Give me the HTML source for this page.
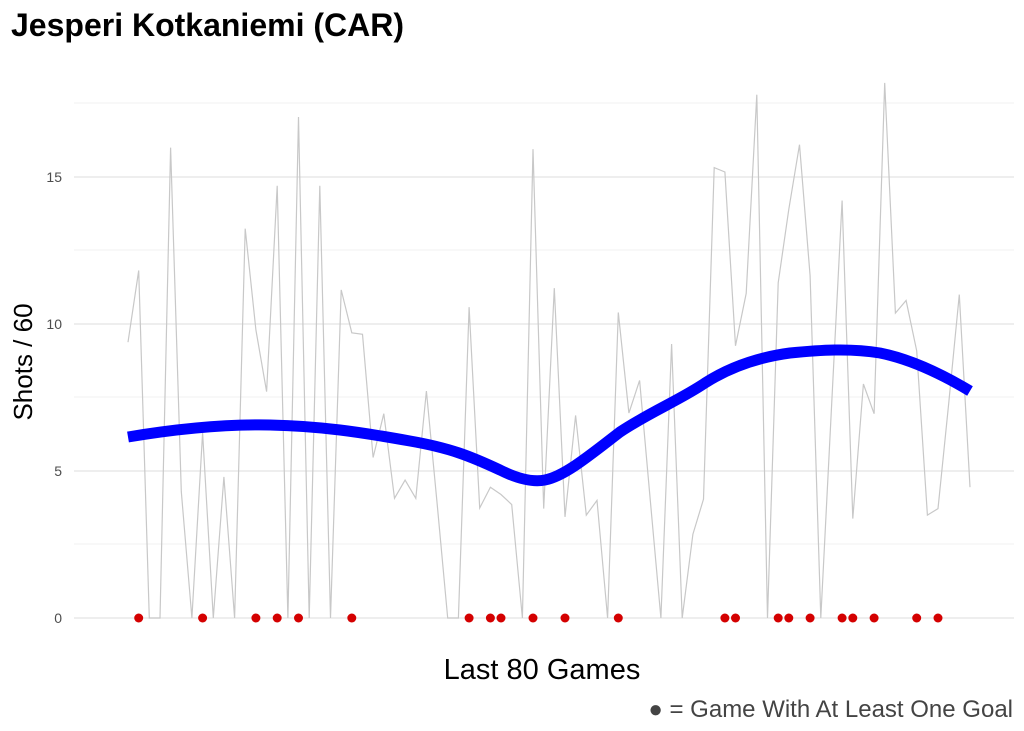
<!DOCTYPE html>
<html><head><meta charset="utf-8"><style>
body{margin:0;background:#fff;}
svg{display:block;font-family:"Liberation Sans",Arial,sans-serif;}
</style></head><body>
<svg id="s" width="1024" height="731" viewBox="0 0 1024 731" xmlns="http://www.w3.org/2000/svg">
<rect width="1024" height="731" fill="#fff"/>
<g stroke="#f0f0f0" stroke-width="1">
<line x1="74" x2="1014" y1="103" y2="103"/><line x1="74" x2="1014" y1="250" y2="250"/>
<line x1="74" x2="1014" y1="397" y2="397"/><line x1="74" x2="1014" y1="544" y2="544"/>
</g>
<g stroke="#e4e4e4" stroke-width="1.2">
<line x1="74" x2="1014" y1="177" y2="177"/><line x1="74" x2="1014" y1="324" y2="324"/>
<line x1="74" x2="1014" y1="471" y2="471"/><line x1="74" x2="1014" y1="618" y2="618"/>
</g>
<g font-size="14" fill="#4d4d4d" text-anchor="end">
<text x="62" y="182">15</text><text x="62" y="329">10</text><text x="62" y="476">5</text><text x="62" y="623">0</text>
</g>
<polyline id="g" fill="none" stroke="#c8c8c8" stroke-width="1.2" points=""/>
<path d="M128,437 C170,430 220,424 270,425 C320,426 360,432 410,441 C450,448 470,456 500,470 C520,480 535,482 545,480 C565,476 590,455 620,432 C650,412 680,400 705,383 C730,367 760,357 790,353 C820,350 850,348 880,353 C910,359 940,373 970,391" fill="none" stroke="#0000ff" stroke-width="11"/>
<g id="d" fill="#d40000"></g>
<text x="11" y="36" font-size="32" font-weight="bold" fill="#000">Jesperi Kotkaniemi (CAR)</text>
<text transform="translate(32,362) rotate(-90)" font-size="26" text-anchor="middle" fill="#000">Shots / 60</text>
<text x="542" y="679" font-size="29" text-anchor="middle" fill="#000">Last 80 Games</text>
<text x="1013" y="717" font-size="24" text-anchor="end" fill="#444">● = Game With At Least One Goal</text>
</svg>
<script>
var v=[9.38,11.82,0,0,16.0,4.3,0,6.3,0,4.8,0,13.24,9.8,7.7,14.7,0,17.04,0,14.7,0,11.16,9.7,9.65,5.46,6.95,4.07,4.69,4.07,7.72,3.9,0,0,10.57,3.74,4.45,4.2,3.86,0,15.95,3.72,11.22,3.44,6.89,3.5,4.0,0,10.39,6.97,8.08,4.0,0,9.32,0,2.85,4.04,15.32,15.17,9.26,11.04,17.8,0,11.4,13.9,16.1,11.64,0,7.1,14.2,3.38,7.96,6.95,18.2,10.37,10.8,9.09,3.5,3.72,7.3,11.0,4.45];
var st=(970-128)/79,p=[];
for(var i=0;i<80;i++){p.push((128+st*i).toFixed(1)+","+(618-v[i]*29.4).toFixed(1));}
document.getElementById("g").setAttribute("points",p.join(" "));
var dots=[1,7,12,14,16,21,32,34,35,38,41,46,56,57,61,62,64,67,68,70,74,76],h="";
dots.forEach(function(k){h+='<circle cx="'+(128+st*k).toFixed(1)+'" cy="618" r="4.5"/>';});
document.getElementById("d").innerHTML=h;
</script>
</body></html>
